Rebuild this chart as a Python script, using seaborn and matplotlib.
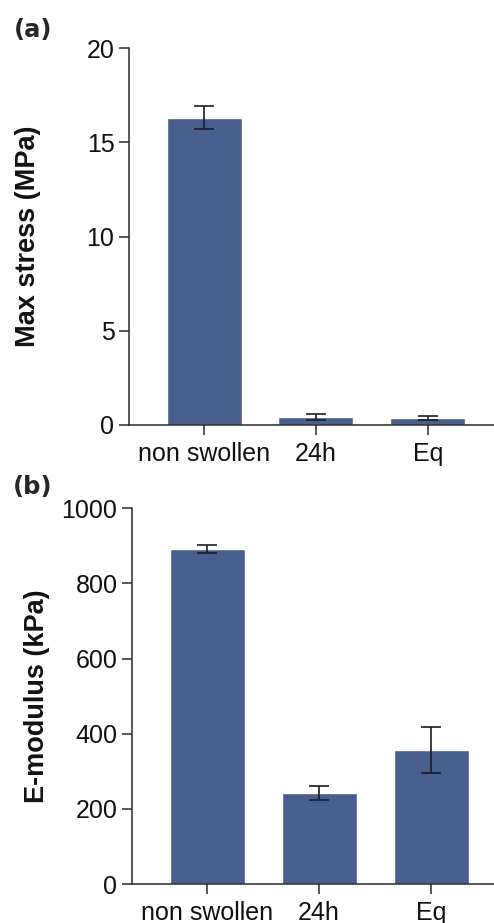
import matplotlib
matplotlib.use("Agg")
import matplotlib.pyplot as plt
import seaborn as sns

# Sample groups and measured mechanical properties (mean ± SD)
categories = ["non swollen", "24h", "Eq"]
stress_mean = [16.3, 0.42, 0.35]
stress_err = [0.6, 0.17, 0.11]
modulus_mean = [892, 242, 357]
modulus_err = [10, 19, 62]

stress_ticks = [0, 5, 10, 15, 20]
modulus_ticks = [0, 200, 400, 600, 800, 1000]

sns.set_style("ticks")
plt.rcParams["font.family"] = ["Liberation Sans", "DejaVu Sans"]

bar_color = "#485E8D"
line_color = "#2a2a2a"

fig = plt.figure(figsize=(4.94, 9.23), dpi=100)
W, H = 494, 923
ax1 = fig.add_axes([129 / W, 1 - 425 / H, (W - 129) / W, (425 - 48) / H])
ax2 = fig.add_axes([132 / W, 1 - 884 / H, (W - 132) / W, (884 - 508.3) / H])


def draw_panel(ax, means, errs, ticks, ylabel, xlim, label_x):
    sns.barplot(x=categories, y=means, ax=ax, color=bar_color,
                saturation=1, width=0.67, errorbar=None, zorder=2)
    ax.errorbar(range(len(categories)), means, yerr=errs, fmt="none",
                ecolor="#1b1d2b", elinewidth=1.2, capsize=7, capthick=1.2,
                zorder=3)
    ax.set_ylim(ticks[0], ticks[-1])
    ax.set_yticks(ticks)
    ax.set_xlim(*xlim)
    for side in ("top", "right"):
        ax.spines[side].set_visible(False)
    for side in ("left", "bottom"):
        ax.spines[side].set_linewidth(1.1)
        ax.spines[side].set_color(line_color)
    ax.tick_params(axis="both", direction="out", length=7.5, width=1.1,
                   color=line_color, labelsize=18, labelcolor="#111111")
    ax.tick_params(axis="y", pad=3)
    ax.tick_params(axis="x", pad=5)
    ax.set_ylabel(ylabel, fontsize=19.5, fontweight="bold", color="#111111")
    ax.yaxis.set_label_coords(label_x, 0.5)
    ax.set_xlabel("")


draw_panel(ax1, stress_mean, stress_err, stress_ticks,
           "Max stress (MPa)", (-0.67, 2.59), -0.24)
draw_panel(ax2, modulus_mean, modulus_err, modulus_ticks,
           "E-modulus (kPa)", (-0.67, 2.56), -0.2265)

fig.text(14 / W, 1 - 18 / H, "(a)", family="DejaVu Sans", fontweight="bold",
         fontsize=17.5, ha="left", va="top")
fig.text(13 / W, 1 - 475 / H, "(b)", family="DejaVu Sans", fontweight="bold",
         fontsize=17.5, ha="left", va="top")

fig.savefig("out.png", dpi=100, facecolor="white")
